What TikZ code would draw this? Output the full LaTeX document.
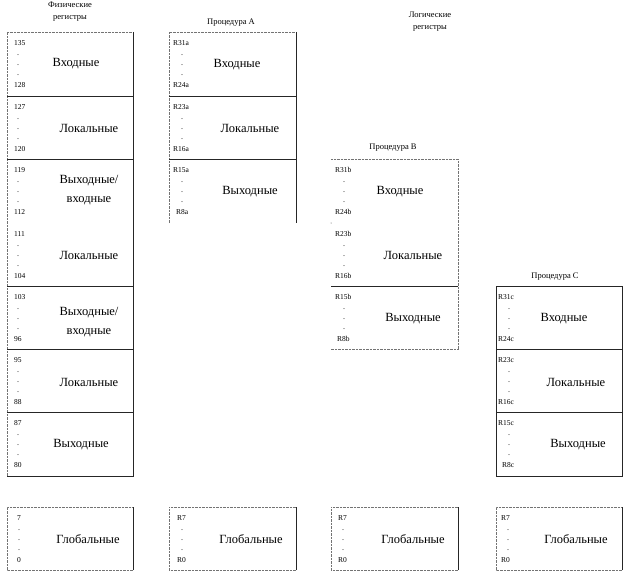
\documentclass[tikz,border=0pt]{standalone}
\usepackage{fontspec}
\setmainfont{Liberation Serif}
\tikzset{
 solidln/.style={draw=black!85, line width=0.9pt},
 dotln/.style={draw=black!55, line width=0.8pt, dash pattern=on 0.7pt off 0.7pt},
 num/.style={anchor=west, inner sep=0pt, font=\fontsize{7.5}{9}\selectfont},
 dotmark/.style={inner sep=0pt, font=\fontsize{8}{9}\selectfont},
 lbl/.style={align=center, inner sep=0pt, font=\fontsize{12.5}{19}\selectfont},
 hdr/.style={align=center, inner sep=0pt, font=\fontsize{8.5}{12}\selectfont},
}
\def\botshift{0}
\newcommand\regrow[9]{%
 \node[num] (#1t) at (#2,-#4-11) {#5};
 \node[dotmark] (#1d1) at (#3,-#4-23) {.};
 \node[dotmark] (#1d2) at (#3,-#4-33) {.};
 \node[dotmark] (#1d3) at (#3,-#4-43) {.};
 \node[num] (#1b) at ({#2+\botshift},-#4-53) {#6};
 \node[lbl] (#1l) at (#7,-#8) {#9};
}
\begin{document}
\begin{tikzpicture}[x=1pt,y=1pt]
\fill[white] (0,0) rectangle (623,-572);
\useasboundingbox (0,0) rectangle (623,-572);

% headers
\node[hdr] (hphys) at (70,-12) {Физические\\регистры};
\node[hdr] (hA) at (231,-23) {Процедура A};
\node[hdr] (hlog) at (430,-22) {Логические\\регистры};
\node[hdr] (hB) at (393,-148) {Процедура B};
\node[hdr] (hC) at (555,-277) {Процедура C};

% column 1 (physical registers)
\draw[dotln] (7,-476) -- (7,-32) -- (133,-32);
\draw[solidln] (133,-32) -- (133,-476) -- (7,-476);
\foreach \yy in {96,159,286,349,412} \draw[solidln] (7,-\yy) -- (133,-\yy);

% column 2 (procedure A)
\draw[dotln] (169,-223) -- (169,-32) -- (296,-32);
\draw[solidln] (296,-32) -- (296,-223);
\foreach \yy in {96,159} \draw[solidln] (169,-\yy) -- (296,-\yy);

% column 3 (procedure B)
\draw[dotln] (331,-159) -- (458,-159) -- (458,-349) -- (331,-349);
\draw[solidln] (331,-286) -- (458,-286);
\fill[black!70] (331,-223) circle (0.5);

% column 4 (procedure C)
\draw[solidln] (496,-286) rectangle (622,-476);
\foreach \yy in {349,412} \draw[solidln] (496,-\yy) -- (622,-\yy);

% global boxes
\foreach \L/\R in {7/133,169/296,331/458,496/622}{
 \draw[dotln] (\R,-570) -- (\L,-570) -- (\L,-507) -- (\R,-507);
 \draw[solidln] (\R,-507) -- (\R,-570);
}

% column 1 rows
\regrow{pa}{14}{18}{32}{135}{128}{76}{64}{Входные}
\regrow{pb}{14}{18}{96}{127}{120}{89}{128}{Локальные}
\regrow{pc}{14}{18}{159}{119}{112}{89}{190}{Выходные/\\входные}
\regrow{pd}{14}{18}{223}{111}{104}{89}{255}{Локальные}
\regrow{pe}{14}{18}{286}{103}{96}{89}{322}{Выходные/\\входные}
\regrow{pf}{14}{18}{349}{95}{88}{89}{382}{Локальные}
\regrow{pg}{14}{18}{412}{87}{80}{81}{445}{Выходные}

% column 2 rows
\regrow{aa}{173}{182}{32}{R31a}{R24a}{237}{65}{Входные}
\regrow{ab}{173}{182}{96}{R23a}{R16a}{250}{128}{Локальные}
\def\botshift{3}
\regrow{ac}{173}{182}{159}{R15a}{R8a}{250}{192}{Выходные}

% column 3 rows
\def\botshift{0}
\regrow{ba}{335}{344}{159}{R31b}{R24b}{400}{192}{Входные}
\regrow{bb}{335}{344}{223}{R23b}{R16b}{413}{255}{Локальные}
\def\botshift{2}
\regrow{bc}{335}{344}{286}{R15b}{R8b}{413}{319}{Выходные}

% column 4 rows
\def\botshift{0}
\regrow{ca}{498}{509}{286}{R31c}{R24c}{564}{319}{Входные}
\regrow{cb}{498}{509}{349}{R23c}{R16c}{576}{382}{Локальные}
\def\botshift{4}
\regrow{cc}{498}{509}{412}{R15c}{R8c}{578}{445}{Выходные}

% global rows
\def\botshift{0}
\regrow{ga}{17}{19}{507}{7}{0}{88}{539}{Глобальные}
\regrow{gb}{177}{182}{507}{R7}{R0}{251}{539}{Глобальные}
\regrow{gc}{338}{343}{507}{R7}{R0}{413}{539}{Глобальные}
\regrow{gd}{501}{508}{507}{R7}{R0}{576}{539}{Глобальные}
\end{tikzpicture}
\end{document}
